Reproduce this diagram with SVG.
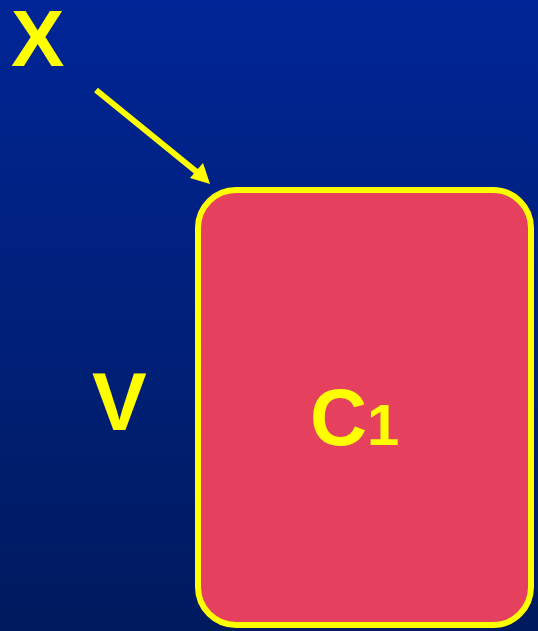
<svg xmlns="http://www.w3.org/2000/svg" width="538" height="631" viewBox="0 0 538 631">
<defs>
<linearGradient id="bg" x1="0" y1="0" x2="0" y2="1">
<stop offset="0" stop-color="#002596"/>
<stop offset="1" stop-color="#001A5E"/>
</linearGradient>
<style>
.lbl{font-family:"Liberation Sans",Arial,sans-serif;font-weight:bold;fill:#FFFF00}
</style>
</defs>
<rect width="538" height="631" fill="url(#bg)"/>
<g id="connectors">
<line x1="96" y1="90" x2="198" y2="173" stroke="#FFFF00" stroke-width="6"/>
<polygon points="210,184 190,178 203,163" fill="#FFFF00"/>
</g>
<g id="node-X"><text class="lbl" x="11" y="66" font-size="80">X</text></g>
<g id="node-V"><text class="lbl" x="92" y="430" font-size="82">V</text></g>
<g id="node-C1">
<rect x="198" y="190" width="333" height="435" rx="38" ry="38" fill="#E5415F" stroke="#FFFF00" stroke-width="6"/>
<text class="lbl" x="310" y="445" font-size="79">C<tspan font-size="58">1</tspan></text>
</g>
</svg>
